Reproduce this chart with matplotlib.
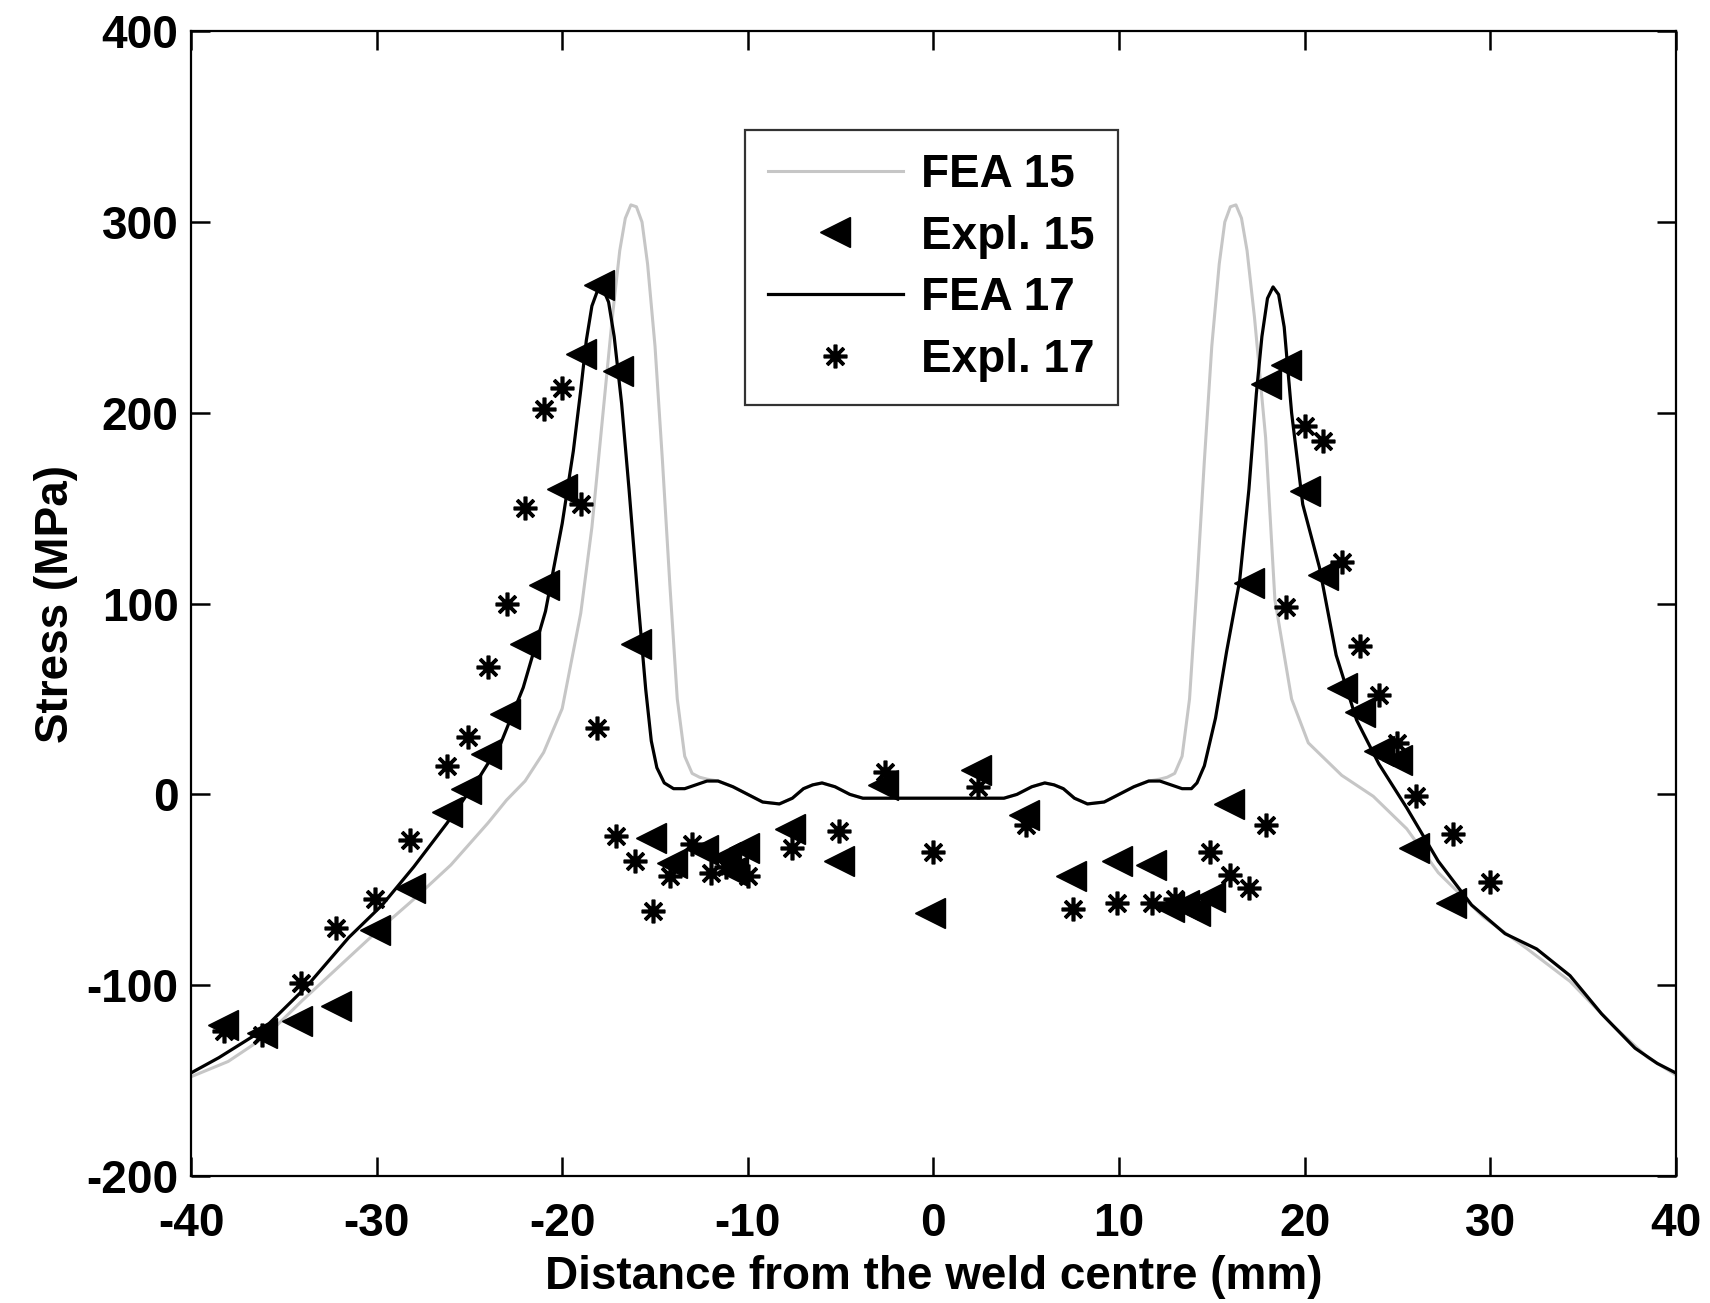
import numpy as np
import matplotlib
matplotlib.use("Agg")
import matplotlib.pyplot as plt

plt.rcParams['font.family'] = ['Liberation Sans', 'DejaVu Sans']
plt.rcParams['font.weight'] = 'bold'
plt.rcParams['axes.unicode_minus'] = False

# FEA 17 (black line)
fea17_x = [-40, -38.5, -36.2, -33.8, -31.5, -29.7, -28, -26.2, -24.4, -23.3, -22.1, -20.9, -20, -19.4,
           -19.0, -18.7, -18.4, -18.1, -17.8, -17.5, -17.2, -16.8, -16.4, -15.9, -15.5, -15.2, -14.9,
           -14.5, -14.0, -13.4, -12.8, -12.2, -11.6, -10.8, -10, -9.2, -8.3, -7.6, -7, -6.5, -6.0, -5.3,
           -4.5, -3.8, -3.1, -1.5, 0, 1.5, 3.1, 3.8, 4.5, 5.3, 6.0, 6.5, 7, 7.6, 8.3, 9.2, 10, 10.8,
           11.6, 12.2, 12.8, 13.4, 13.9, 14.2, 14.6, 15.2, 15.8, 16.5, 17.0, 17.4, 17.7, 18.0, 18.3,
           18.6, 18.9, 19.3, 19.9, 20.8, 21.7, 22.8, 24, 25.5, 27.2, 29, 30.8, 32.5, 34.3, 36, 37.8,
           39, 40]
fea17_y = [-146, -138, -124, -101, -75, -58, -38, -15, 10, 27, 56, 96, 142, 180,
           212, 238, 256, 264, 265, 258, 240, 205, 160, 100, 55, 28, 14,
           6, 3, 3, 5, 7, 7, 4, 0, -4, -5, -2, 3, 5, 6, 4,
           0, -2, -2, -2, -2, -2, -2, -2, 0, 4, 6, 5, 3, -2, -5, -4, 0, 4,
           7, 7, 5, 3, 3, 6, 15, 40, 75, 112, 160, 210, 240, 260, 266,
           262, 245, 200, 152, 119, 73, 39, 16, -7, -35, -58, -73, -81, -95, -115, -133,
           -141, -146]

# FEA 15 (grey line) - follows FEA 17 in the flat weld zone
fea15_x = [-40, -38, -36, -34, -32, -30, -28, -26, -24, -23, -22, -21, -20, -19, -18.4, -17.8,
           -17.3, -16.9, -16.6, -16.3, -16.0, -15.7, -15.4, -15.0, -14.6, -14.2, -13.8, -13.4,
           -13.0, -12.6, -12.2, -11.6, -10.8, -10, -9.2, -8.3, -7.6, -7, -6.5, -6.0, -5.3,
           -4.5, -3.8, -3.1, -1.5, 0, 1.5, 3.1, 3.8, 4.5, 5.3, 6.0, 6.5, 7, 7.6, 8.3, 9.2, 10, 10.8,
           11.6, 12.2, 12.6, 13.0, 13.4, 13.8, 14.2, 14.6, 15.0, 15.4, 15.7, 16.0, 16.3, 16.6, 16.9,
           17.3, 17.9, 18.4, 19.3, 20.2, 22, 23.7, 25.5, 27.2, 29.6, 32, 34.3, 36.6, 38.5, 40]
fea15_y = [-148, -140, -127, -108, -90, -72, -55, -37, -15, -3, 7, 22, 45, 95, 140, 200,
           250, 285, 302, 309, 308, 300, 278, 235, 175, 110, 50, 20,
           11, 9, 8, 7, 4, 0, -4, -5, -2, 3, 5, 6, 4,
           0, -2, -2, -2, -2, -2, -2, -2, 0, 4, 6, 5, 3, -2, -5, -4, 0, 4,
           7, 8, 9, 11, 20, 50, 110, 175, 235, 278, 300, 308, 309, 302, 285,
           250, 187, 102, 50, 27, 10, -1, -18, -41, -64, -81, -98, -121, -138, -147]

# Expl. 15 (triangles)
expl15_x = [-38.3, -36.2, -34.3, -32.2, -30.1, -28.2, -26.2, -25.2, -24.1, -23.1, -22, -21, -20, -19,
            -18, -17, -16, -15.2, -14.1, -12.4, -11.2, -10.8, -10.2, -7.7, -5.1, -2.7, -0.2, 2.3,
            4.9, 7.4, 9.9, 11.7, 12.7, 13.5, 14.1, 14.9, 15.9, 17, 17.9, 19, 20, 21, 22, 23, 24,
            25, 25.9, 27.9]
expl15_y = [-121, -125, -119, -111, -71, -49, -9, 3, 21, 42, 79, 110, 160, 231,
            267, 222, 79, -23, -36, -29, -33, -40, -28, -18, -35, 5, -62, 13,
            -11, -43, -35, -37, -59, -58, -61, -54, -5, 111, 215, 225, 159, 115, 56, 43, 23,
            18, -28, -57]

# Expl. 17 (asterisks)
expl17_x = [-38.2, -36.2, -34.1, -32.2, -30.1, -28.2, -26.2, -25.1, -24, -23, -22, -21, -20, -19,
            -18.1, -17.1, -16.1, -15.1, -14.2, -13, -12, -11.2, -10, -7.6, -5.1, -2.6, 0, 2.4,
            5, 7.5, 9.9, 11.8, 13, 14.9, 16, 17, 17.9, 19, 20, 21, 22, 23, 24, 25, 26, 28, 30]
expl17_y = [-124, -126, -99, -70, -55, -24, 15, 30, 67, 100, 150, 202, 213, 152,
            35, -22, -35, -61, -43, -26, -41, -38, -43, -28, -19, 12, -30, 4,
            -16, -60, -57, -57, -55, -30, -42, -49, -16, 98, 193, 185, 122, 78, 52, 27, -1, -21, -46]

fig = plt.figure(figsize=(17.1, 13.03), dpi=100)
ax = fig.add_axes([0.1117, 0.0975, 0.8683, 0.8785])

ax.plot(fea15_x, fea15_y, color='#c6c6c6', lw=2.2, label='FEA 15', zorder=2)
ax.plot(expl15_x, expl15_y, ls='none', marker='<', ms=21, color='black', label='Expl. 15', zorder=4)
ax.plot(fea17_x, fea17_y, color='black', lw=2.3, label='FEA 17', zorder=3)
ax.plot(expl17_x, expl17_y, ls='none', marker=(8, 2, 0), ms=17, mew=2.6, color='black',
        label='Expl. 17', zorder=4)

ax.set_xlim(-40, 40)
ax.set_ylim(-200, 400)
ax.set_xticks(np.arange(-40, 41, 10))
ax.set_yticks(np.arange(-200, 401, 100))
ax.tick_params(direction='in', length=14, width=1.8, labelsize=33, top=True, right=True)
ax.tick_params(axis='x', pad=19)
ax.tick_params(axis='y', pad=9)
for lab in ax.get_xticklabels() + ax.get_yticklabels():
    lab.set_fontweight('bold')
for sp in ax.spines.values():
    sp.set_linewidth(1.6)

ax.set_xlabel('Distance from the weld centre (mm)', fontsize=33, fontweight='bold', labelpad=6)
ax.set_ylabel('Stress (MPa)', fontsize=33, fontweight='bold', labelpad=6)

leg = ax.legend(loc='upper left', bbox_to_anchor=(0.373, 0.914), fontsize=33, frameon=True,
                fancybox=False, edgecolor='black', handlelength=2.95, labelspacing=0.39,
                borderpad=0.5, handletextpad=0.4, borderaxespad=0)
leg.get_frame().set_linewidth(1.6)
for t in leg.get_texts():
    t.set_fontweight('bold')

fig.savefig('out.png', dpi=100, facecolor='white')
